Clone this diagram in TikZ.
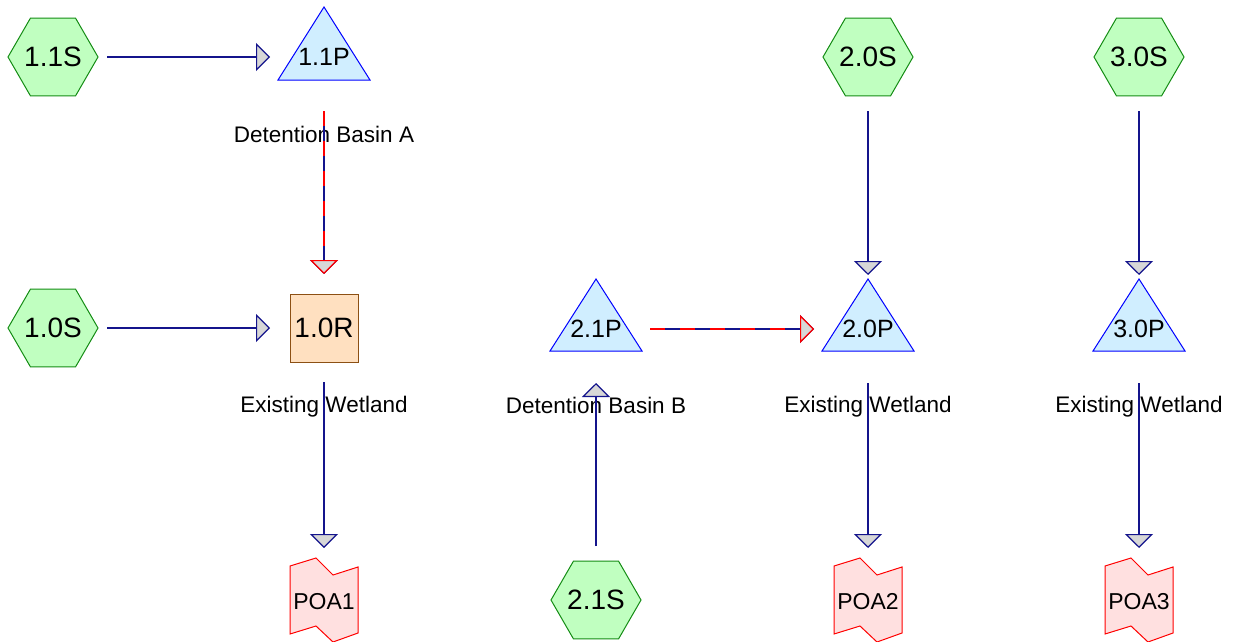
\documentclass[tikz,border=0pt]{standalone}
\usepackage{fontspec}
\setmainfont{Liberation Sans}
\usetikzlibrary{shapes.geometric,arrows.meta}

\definecolor{hexfill}{RGB}{192,255,192}
\definecolor{hexline}{RGB}{20,140,20}
\definecolor{pondfill}{RGB}{208,238,255}
\definecolor{pondline}{RGB}{0,0,255}
\definecolor{reachfill}{RGB}{255,224,192}
\definecolor{reachline}{RGB}{140,80,20}
\definecolor{linkfill}{RGB}{255,224,224}
\definecolor{linkline}{RGB}{255,0,0}
\definecolor{flowline}{RGB}{20,20,140}
\definecolor{tipgray}{RGB}{215,215,215}

\begin{document}
\begin{tikzpicture}[x=1pt,y=-1pt]
\tikzstyle{every node}+=[inner sep=0pt]
\tikzstyle{subcat}=[regular polygon, regular polygon sides=6, inner sep=-1.5pt, minimum size=90pt, draw=hexline, fill=hexfill, line width=1pt, font=\fontsize{28}{30}\selectfont]
\tikzstyle{pondshape}=[draw=pondline, fill=pondfill, line width=1pt, line join=miter]
\tikzstyle{pondtext}=[font=\fontsize{25}{27}\selectfont]
\tikzstyle{reach}=[rectangle, minimum width=68pt, minimum height=68pt, draw=reachline, fill=reachfill, line width=1pt, font=\fontsize{28}{30}\selectfont]
\tikzstyle{linkshape}=[draw=linkline, fill=linkfill, line width=1pt]
\tikzstyle{linktext}=[font=\fontsize{23}{25}\selectfont]
\tikzstyle{caption}=[font=\fontsize{22.5}{25}\selectfont]
\tikzstyle{flow}=[draw=flowline, line width=1.2pt, shorten <=54pt, shorten >=54pt, -{Triangle[length=14pt, width=28pt, fill=tipgray]}]
\tikzstyle{spill}=[flow, draw=linkline, dash pattern=on 15pt off 15pt]
\useasboundingbox (0,0) rectangle (1236,642);

% ponds
\path[pondshape] (324,7) -- (370,80) -- (278,80) -- cycle;
\node[pondtext] (p11) at (324,57) {1.1P};
\path[pondshape] (596,279) -- (642,351) -- (550,351) -- cycle;
\node[pondtext] (p21) at (596,329) {2.1P};
\path[pondshape] (868,279) -- (914,351) -- (822,351) -- cycle;
\node[pondtext] (p20) at (868,329) {2.0P};
\path[pondshape] (1139,279) -- (1185,351) -- (1093,351) -- cycle;
\node[pondtext] (p30) at (1139,329) {3.0P};

% subcatchments
\node[subcat] (s11) at (53,57) {1.1S};
\node[subcat] (s10) at (53,328) {1.0S};
\node[subcat] (s21) at (596,600) {2.1S};
\node[subcat] (s20) at (868,57) {2.0S};
\node[subcat] (s30) at (1139,57) {3.0S};

% reach
\node[reach] (r10) at (324,328) {1.0R};

% links
\path[linkshape] (290,566) -- (316,558) -- (333,575) -- (358,567) -- (358,633) -- (333,642) -- (316,626) -- (290,634) -- cycle;
\node[linktext] (poa1) at (324,602) {POA1};
\path[linkshape] (834,566) -- (860,558) -- (877,575) -- (902,567) -- (902,633) -- (877,642) -- (860,626) -- (834,634) -- cycle;
\node[linktext] (poa2) at (868,602) {POA2};
\path[linkshape] (1105,566) -- (1131,558) -- (1148,575) -- (1173,567) -- (1173,633) -- (1148,642) -- (1131,626) -- (1105,634) -- cycle;
\node[linktext] (poa3) at (1139,602) {POA3};

% captions
\node[caption] (capA) at (324,134) {Detention Basin A};
\node[caption] (capB) at (596,405) {Detention Basin B};
\node[caption] (wet1) at (324,407) {Existing Wetland};
\node[caption] (wet2) at (868,407) {Existing Wetland};
\node[caption] (wet3) at (1139,407) {Existing Wetland};

% connectors
\draw[flow] (s11.center) -- (p11.center);
\draw[flow] (s10.center) -- (r10.center);
\draw[flow] (p11.center) -- (r10.center);
\draw[spill] (p11.center) -- (r10.center);
\draw[flow] (r10.center) -- (poa1.center);
\draw[flow] (s21.center) -- (p21.center);
\draw[flow] (p21.center) -- (p20.center);
\draw[spill] (p21.center) -- (p20.center);
\draw[flow] (s20.center) -- (p20.center);
\draw[flow] (p20.center) -- (poa2.center);
\draw[flow] (s30.center) -- (p30.center);
\draw[flow] (p30.center) -- (poa3.center);
\end{tikzpicture}
\end{document}
